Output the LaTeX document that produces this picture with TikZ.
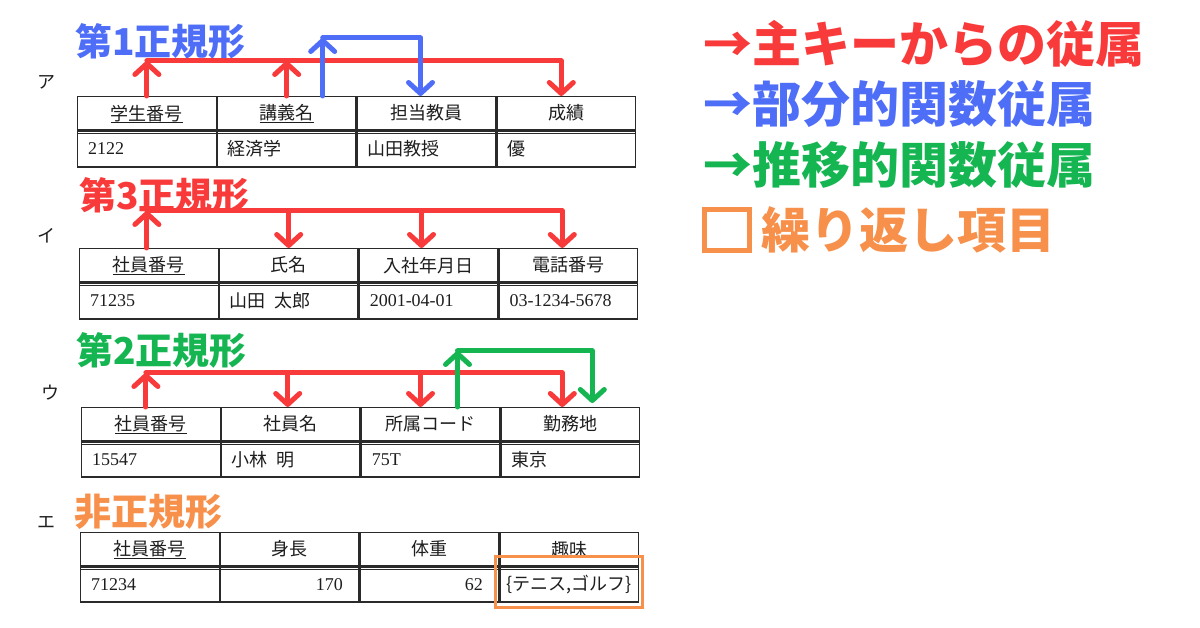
\documentclass[tikz,border=0pt]{standalone}
\usepackage{fontspec}
\setmainfont{Liberation Serif}
\newfontfamily\jp{Noto Sans CJK JP}
\usetikzlibrary{arrows.meta,calc}
\definecolor{cred}{HTML}{F93A3A}
\definecolor{cblue}{HTML}{4F6EF7}
\definecolor{cgreen}{HTML}{15B552}
\definecolor{corange}{HTML}{F7904A}
\definecolor{tline}{HTML}{2A2A2A}
\definecolor{ttext}{HTML}{1E1E1E}
\newsavebox\ulkbox
\newcommand\ulk[1]{\leavevmode\sbox\ulkbox{#1}\makebox[0pt][l]{\raisebox{0pt}[0pt][0pt]{\vrule width\wd\ulkbox height -2.2pt depth 3.4pt}}\usebox\ulkbox}
\tikzset{
  cell/.style={draw=tline, line width=1.3pt, minimum width=138.5pt, minimum height=33pt,
    inner sep=0pt, anchor=north west, text=ttext, font=\fontsize{18}{20}\selectfont},
  hcell/.style={cell, font=\jp\fontsize{18}{20}\selectfont},
  dcell/.style={cell, minimum height=36pt, text width=117.5pt, inner xsep=10.5pt, align=left},
  rcell/.style={cell, minimum height=36pt, text width=106.5pt, inner xsep=16pt, align=right},
  ttl/.style={anchor=west, inner sep=0pt, font=\jp\bfseries\fontsize{37}{40}\selectfont},
  lgd/.style={anchor=west, inner sep=0pt, font=\jp\bfseries\fontsize{49}{52}\selectfont},
  rowlabel/.style={inner sep=0pt, text=ttext, font=\jp\fontsize{18}{20}\selectfont},
  dep/.style={line width=5pt, line cap=round, line join=round},
  tipd/.style={-{Straight Barb[round,length=11pt,width=24pt]}},
  dblline/.style={draw=tline, line width=1.3pt},
}
\begin{document}
\begin{tikzpicture}[x=1pt,y=-1pt]
\fill[white] (0,0) rectangle (1200,628);
\useasboundingbox (0,0) rectangle (1200,628);

% ---------------- Table ア ----------------
\node[rowlabel] (la) at (46,82) {ア};
\node[hcell] (a1) at (77,96) {\ulk{学生番号}};
\node[hcell] (a2) at (a1.north east) {\ulk{講義名}};
\node[hcell] (a3) at (a2.north east) {担当教員};
\node[hcell] (a4) at (a3.north east) {成績};
\node[dcell] (ad1) at (a1.south west) {2122};
\node[dcell] (ad2) at (a2.south west) {\jp 経済学};
\node[dcell] (ad3) at (a3.south west) {\jp 山田教授};
\node[dcell] (ad4) at (a4.south west) {\jp 優};
\draw[dblline] ([yshift=-3pt]ad1.north west) -- ([yshift=-3pt]ad4.north east);

% ---------------- Table イ ----------------
\node[rowlabel] (li) at (46,236) {イ};
\node[hcell] (b1) at (79,248) {\ulk{社員番号}};
\node[hcell] (b2) at (b1.north east) {氏名};
\node[hcell] (b3) at (b2.north east) {入社年月日};
\node[hcell] (b4) at (b3.north east) {電話番号};
\node[dcell] (bd1) at (b1.south west) {71235};
\node[dcell] (bd2) at (b2.south west) {\jp 山田\hspace{0.5em}太郎};
\node[dcell] (bd3) at (b3.south west) {2001-04-01};
\node[dcell] (bd4) at (b4.south west) {03-1234-5678};
\draw[dblline] ([yshift=-3pt]bd1.north west) -- ([yshift=-3pt]bd4.north east);

% ---------------- Table ウ ----------------
\node[rowlabel] (lu) at (50,393) {ウ};
\node[hcell] (c1) at (81,407) {\ulk{社員番号}};
\node[hcell] (c2) at (c1.north east) {社員名};
\node[hcell] (c3) at (c2.north east) {所属コード};
\node[hcell] (c4) at (c3.north east) {勤務地};
\node[dcell, minimum height=35pt] (cd1) at (c1.south west) {15547};
\node[dcell, minimum height=35pt] (cd2) at (c2.south west) {\jp 小林\hspace{0.5em}明};
\node[dcell, minimum height=35pt] (cd3) at (c3.south west) {75T};
\node[dcell, minimum height=35pt] (cd4) at (c4.south west) {\jp 東京};
\draw[dblline] ([yshift=-3pt]cd1.north west) -- ([yshift=-3pt]cd4.north east);

% ---------------- Table エ ----------------
\node[rowlabel] (le) at (46,522) {エ};
\node[hcell] (e1) at (80,532) {\ulk{社員番号}};
\node[hcell] (e2) at (e1.north east) {身長};
\node[hcell] (e3) at (e2.north east) {体重};
\node[hcell] (e4) at (e3.north east) {趣味};
\node[dcell, minimum height=35pt] (ed1) at (e1.south west) {71234};
\node[rcell, minimum height=35pt] (ed2) at (e2.south west) {170};
\node[rcell, minimum height=35pt] (ed3) at (e3.south west) {62};
\node[dcell, minimum height=35pt, inner xsep=6pt, text width=126.5pt] (ed4) at (e4.south west) {\jp\{テニス,ゴルフ\}};
\draw[dblline] ([yshift=-3pt]ed1.north west) -- ([yshift=-3pt]ed4.north east);
\draw[corange, line width=3pt] ([xshift=-3.5pt,yshift=10pt]ed4.north west) rectangle ([xshift=3pt,yshift=-5pt]ed4.south east);

% ---------------- Titles ----------------
\node[ttl, text=cblue] (t1) at (75,41) {第1正規形};
\node[ttl, text=cred] (t3) at (79,195) {第3正規形};
\node[ttl, text=cgreen] (t2) at (76,350) {第2正規形};
\node[ttl, text=corange] (t0) at (74,512) {非正規形};

% ---------------- Arrows ア ----------------
\coordinate (yA1) at (0,61);
\coordinate (yA2) at (0,38);
\coordinate (a4t) at ([xshift=-5pt]a4.north);
\coordinate (a2b) at ([xshift=36pt]a2.north);
\coordinate (a3b) at ([xshift=-6pt]a3.north);
\draw[dep, cred, tipd] (a1.north |- yA1) -| (a4t);
\draw[dep, cred, tipd] (a1.north) -- (a1.north |- yA1);
\draw[dep, cred, tipd] (a2.north) -- (a2.north |- yA1);
\draw[dep, cblue, tipd] (a2b |- yA2) -| (a3b);
\draw[dep, cblue, tipd] (a2b) -- (a2b |- yA2);

% ---------------- Arrows イ ----------------
\coordinate (yI) at (0,211);
\coordinate (b1t) at ([xshift=-2pt]b1.north);
\coordinate (b3t) at ([xshift=-7pt]b3.north);
\coordinate (b4t) at ([xshift=-6pt]b4.north);
\draw[dep, cred, tipd] (b1t |- yI) -| (b4t);
\draw[dep, cred, tipd] (b1t) -- (b1t |- yI);
\draw[dep, cred, tipd] (b2.north |- yI) -- (b2.north);
\draw[dep, cred, tipd] (b3t |- yI) -- (b3t);

% ---------------- Arrows ウ ----------------
\coordinate (yU1) at (0,373);
\coordinate (yU2) at (0,351);
\coordinate (c1t) at ([xshift=-5pt]c1.north);
\coordinate (c2t) at ([xshift=-3pt]c2.north);
\coordinate (c3t) at ([xshift=-10pt]c3.north);
\coordinate (c4t) at ([xshift=-8pt]c4.north);
\coordinate (c3g) at ([xshift=27pt]c3.north);
\coordinate (c4g) at ([xshift=22pt,yshift=4pt]c4.north);
\draw[dep, cred, tipd] (c1t |- yU1) -| (c4t);
\draw[dep, cred, tipd] (c1t) -- (c1t |- yU1);
\draw[dep, cred, tipd] (c2t |- yU1) -- (c2t);
\draw[dep, cred, tipd] (c3t |- yU1) -- (c3t);
\draw[dep, cgreen, tipd] (c3g |- yU2) -| (c4g);
\draw[dep, cgreen, tipd] (c3g) -- (c3g |- yU2);

% ---------------- Legend ----------------
\node[lgd, text=cred] (g1) at (703,44) {→主キーからの従属};
\node[lgd, text=cblue] (g2) at (703,104) {→部分的関数従属};
\node[lgd, text=cgreen] (g3) at (703,165) {→推移的関数従属};
\node[draw=corange, line width=5pt, minimum width=45pt, minimum height=41pt, inner sep=0pt] (sq) at (727,230) {};
\node[lgd, text=corange] (g4) at (761,230) {繰り返し項目};
\end{tikzpicture}
\end{document}
